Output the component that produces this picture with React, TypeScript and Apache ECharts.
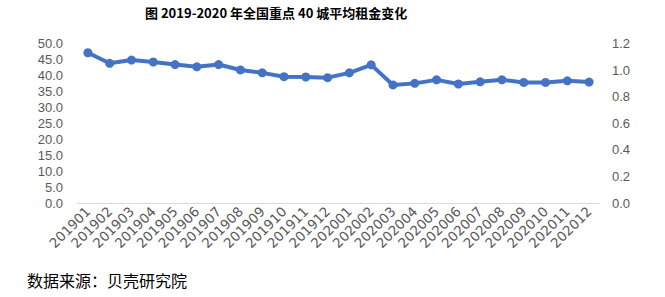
import React, { useEffect, useRef } from "react";
import * as echarts from "echarts";

const categories = [
  "201901", "201902", "201903", "201904", "201905", "201906",
  "201907", "201908", "201909", "201910", "201911", "201912",
  "202001", "202002", "202003", "202004", "202005", "202006",
  "202007", "202008", "202009", "202010", "202011", "202012",
];
const rentValues = [
  47.1, 43.8, 44.8, 44.2, 43.4, 42.7, 43.4, 41.7, 40.8, 39.6, 39.5, 39.3,
  40.8, 43.3, 37.0, 37.5, 38.6, 37.3, 38.0, 38.6, 37.8, 37.8, 38.3, 37.9,
];
const titleText = "图 2019-2020 年全国重点 40 城平均租金变化";
const sourceText = "数据来源：贝壳研究院";

export default function App() {
  const ref = useRef<HTMLDivElement>(null);
  useEffect(() => {
    if (!ref.current) return;
    const chart = echarts.init(ref.current, undefined, { renderer: "svg" });
    const labelStyle = {
      color: "#595959",
      fontSize: 13,
      fontFamily: "Liberation Sans, Arial, sans-serif",
    };
    chart.setOption({
      animation: false,
      backgroundColor: "#ffffff",
      title: {
        text: titleText,
        left: 140,
        top: 1,
        textStyle: {
          fontSize: 13,
          fontWeight: "bold",
          color: "#000000",
          fontFamily: "Noto Sans CJK SC, sans-serif",
        },
      },
      graphic: [
        {
          type: "text",
          left: 27,
          top: 272,
          style: {
            text: sourceText,
            fontSize: 16,
            fill: "#000000",
            fontFamily: "Noto Sans CJK SC, sans-serif",
          },
        },
      ],
      grid: { left: 77, right: 65, top: 43.5, bottom: 94, containLabel: false },
      xAxis: {
        type: "category",
        data: categories,
        boundaryGap: true,
        axisLine: { lineStyle: { color: "#d9d9d9", width: 1 } },
        axisTick: { show: false },
        axisLabel: {
          color: "#595959",
          fontSize: 13.5,
          fontFamily: "DejaVu Sans, sans-serif",
          rotate: 45,
          interval: 0,
          margin: 6,
        },
      },
      yAxis: [
        {
          type: "value",
          min: 0,
          max: 50,
          interval: 5,
          splitLine: { show: false },
          axisLine: { show: false },
          axisTick: { show: false },
          axisLabel: { ...labelStyle, margin: 14, formatter: (v: number) => v.toFixed(1) },
        },
        {
          type: "value",
          min: 0,
          max: 1.2,
          interval: 0.2,
          position: "right",
          splitLine: { show: false },
          axisLine: { show: false },
          axisTick: { show: false },
          axisLabel: { ...labelStyle, margin: 12, formatter: (v: number) => v.toFixed(1) },
        },
      ],
      series: [
        {
          type: "line",
          data: rentValues,
          yAxisIndex: 0,
          symbol: "circle",
          symbolSize: 9,
          lineStyle: { color: "#4472C4", width: 4 },
          itemStyle: { color: "#4472C4" },
        },
      ],
    });
    return () => chart.dispose();
  }, []);
  return (
    <div
      ref={ref}
      style={{ position: "fixed", left: 0, top: 0, width: 665, height: 297 }}
    />
  );
}
